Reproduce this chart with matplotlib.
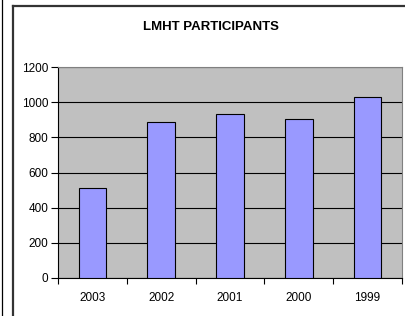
import matplotlib
matplotlib.use("Agg")
import matplotlib.pyplot as plt
from matplotlib.lines import Line2D

plt.rcParams['font.family'] = ['Liberation Sans', 'DejaVu Sans']

years = ["2003", "2002", "2001", "2000", "1999"]
participants = [513, 890, 932, 905, 1032]
yticks = [0, 200, 400, 600, 800, 1000, 1200]

fig = plt.figure(figsize=(4.06, 3.16), dpi=100)
fig.patch.set_facecolor("white")

# outer frame lines (left + top, plus thin page edge)
fig.add_artist(Line2D([13.5/406, 13.5/406], [0, 1 - 5.5/316], color="#333333", lw=1.6))
fig.add_artist(Line2D([13.5/406, 1], [1 - 5.5/316, 1 - 5.5/316], color="#333333", lw=1.6))
fig.add_artist(Line2D([2.5/406, 2.5/406], [0, 1], color="black", lw=0.9))

ax = fig.add_axes([58/406, 1 - 278/316, 344/406, 211/316])
ax.set_facecolor("#C0C0C0")

x = range(len(years))
ax.bar(x, participants, width=0.4, color="#9999FF", edgecolor="black", linewidth=0.8, zorder=3)

ax.set_xlim(-0.5, len(years) - 0.5)
ax.set_ylim(0, 1200)
ax.set_yticks(yticks)
ax.set_yticklabels([str(v) for v in yticks], fontsize=8.5)
ax.set_xticks([i - 0.5 for i in range(len(years) + 1)])
ax.set_xticklabels([])
ax.set_xticks(list(x), minor=True)
ax.set_xticklabels(years, minor=True, fontsize=8.5)
ax.tick_params(axis="x", which="minor", length=0, pad=10)
ax.tick_params(axis="x", which="major", length=4, width=0.8, direction="out")
ax.tick_params(axis="y", length=5, width=0.8, direction="out", pad=2)

ax.yaxis.grid(True, color="black", linewidth=0.8, zorder=1)
ax.set_axisbelow(True)

for side in ["top", "right"]:
    ax.spines[side].set_color("#808080")
    ax.spines[side].set_linewidth(0.8)
for side in ["left", "bottom"]:
    ax.spines[side].set_color("black")
    ax.spines[side].set_linewidth(0.8)

fig.text(211/406, 1 - 27/316, "LMHT PARTICIPANTS", ha="center", va="center",
         fontsize=9.5, fontweight="bold")

fig.savefig("out.png", dpi=100)
